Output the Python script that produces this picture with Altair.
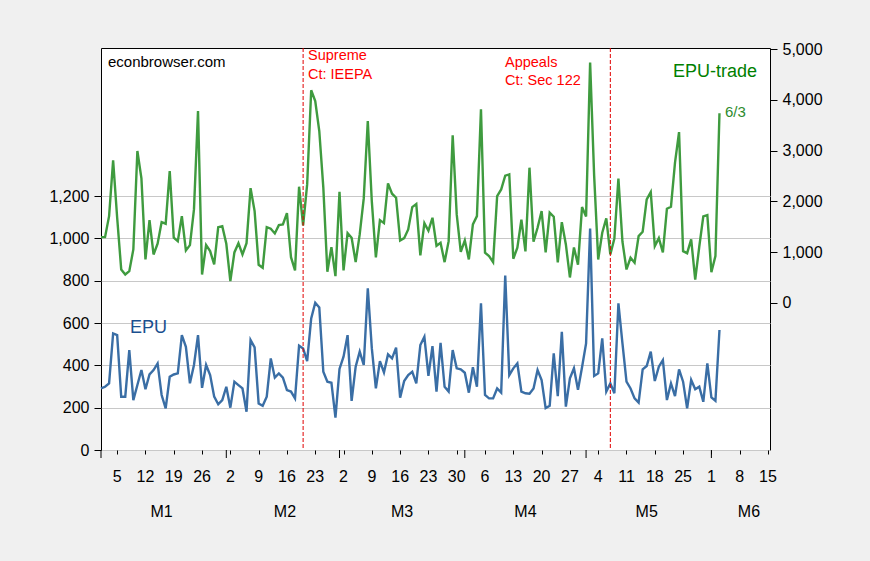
import altair as alt
import pandas as pd

# Daily index values, 1 Jan 2026 (day 0) through 3 Jun 2026 (day 153)
epu = [
    291, 299, 315, 551, 543, 252, 252, 472, 236, 307,
    378, 287, 357, 378, 409, 260, 197, 346, 357, 362,
    543, 488, 315, 402, 543, 294, 402, 354, 252, 216,
    236, 299, 200, 323, 307, 291, 181, 520, 485, 220,
    209, 252, 433, 342, 362, 342, 283, 276, 244, 493,
    480, 420, 622, 696, 674, 370, 323, 318, 153, 383,
    441, 543, 232, 394, 465, 402, 764, 480, 291, 420,
    367, 452, 433, 484, 247, 326, 354, 370, 315, 496,
    535, 350, 491, 276, 506, 299, 276, 472, 386, 381,
    365, 271, 391, 299, 693, 260, 244, 244, 291, 271,
    824, 354, 386, 409, 276, 268, 266, 291, 378, 331,
    198, 209, 457, 254, 559, 205, 339, 386, 285, 391,
    504, 1047, 350, 362, 528, 276, 315, 268, 693, 504,
    323, 291, 244, 224, 381, 397, 465, 326, 394, 425,
    236, 315, 255, 381, 323, 197, 331, 287, 299, 228,
    409, 249, 233, 567,
]

epu_trade = [
    1294, 1294, 1708, 2806, 1676, 657, 558, 624, 1051, 2990,
    2451, 854, 1629, 952, 1163, 1590, 1558, 2595, 1282, 1215,
    1708, 1031, 1136, 1840, 3778, 558, 1136, 1018, 755, 1491,
    1511, 1163, 426, 992, 1175, 952, 1175, 2260, 1806, 749,
    690, 1491, 1459, 1367, 1530, 1544, 1767, 899, 637, 2287,
    1524, 2333, 4187, 3976, 3384, 2268, 611, 1097, 525, 2189,
    637, 1373, 1282, 801, 1347, 2057, 3582, 1992, 893, 1629,
    1570, 2353, 2149, 2071, 1229, 1274, 1445, 1886, 1945, 933,
    1570, 1420, 1676, 1124, 1183, 801, 1215, 3299, 1741, 1005,
    1229, 854, 1544, 1708, 3812, 986, 919, 801, 2102, 2234,
    2504, 2530, 868, 1085, 1637, 1012, 2662, 1203, 1479, 1806,
    992, 1775, 1696, 795, 1590, 1150, 499, 1091, 749, 1886,
    1702, 4733, 2500, 854, 1380, 1662, 952, 1268, 2445, 1203,
    657, 887, 789, 1313, 1400, 2037, 2181, 1116, 1274, 992,
    1854, 1893, 2761, 3364, 1018, 978, 1248, 459, 1104, 1702,
    1727, 603, 919, 3733,
]

days = list(range(len(epu)))

# Axis tick positions (days since 1 Jan 2026)
mondays = [4, 11, 18, 25, 32, 39, 46, 53, 60, 67, 74, 81, 88, 95,
           102, 109, 116, 123, 130, 137, 144, 151, 158, 165]
monday_dom = [5, 12, 19, 26, 2, 9, 16, 23, 2, 9, 16, 23, 30, 6, 13,
              20, 27, 4, 11, 18, 25, 1, 8, 15]
month_starts = [0, 31, 59, 90, 120, 151]
month_names = ["M1", "M2", "M3", "M4", "M5", "M6"]
month_centers = [15, 45.5, 74.5, 105, 135, 160.3]

# Court rulings: 20 Feb and 7 May
event_days = [50, 126]

left_ticks = [0, 200, 400, 600, 800, 1000, 1200]
right_ticks = [0, 1000, 2000, 3000, 4000, 5000]

df = pd.DataFrame({"day": days, "epu": epu, "trade": epu_trade})
events = pd.DataFrame({"day": event_days})
months = pd.DataFrame({"day": month_starts})
month_lbl = pd.DataFrame({"day": month_centers, "label": month_names})
week_lbl = pd.DataFrame({"day": mondays, "label": [str(v) for v in monday_dom]})

FONT = "Liberation Sans"
W, H = 669, 402

x_scale = alt.Scale(domain=[0, 165.5], nice=False, zero=False)

x_axis = alt.Axis(
    values=mondays, labels=False, tickSize=4, tickColor="black",
    grid=False, domain=False, title=None,
)


def xenc():
    return alt.X("day:Q", scale=x_scale, axis=x_axis)


epu_line = alt.Chart(df).mark_line(color="#3a6ea5", strokeWidth=2.4).encode(
    x=xenc(),
    y=alt.Y(
        "epu:Q",
        scale=alt.Scale(domain=[0, 1900], nice=False),
        axis=alt.Axis(
            values=left_ticks, format=",.0f", orient="left", tickSize=7,
            tickColor="black", grid=True, gridColor="#c8c8c8",
            domain=False, labelFontSize=16, labelPadding=5,
            labelColor="black", title=None,
        ),
    ),
)

trade_line = alt.Chart(df).mark_line(color="#3f9b3f", strokeWidth=2.4).encode(
    x=xenc(),
    y=alt.Y(
        "trade:Q",
        scale=alt.Scale(domain=[-2900, 5020], nice=False, zero=False),
        axis=alt.Axis(
            values=right_ticks, format=",.0f", orient="right", tickSize=7,
            tickColor="black", grid=False, domain=False,
            labelFontSize=16, labelPadding=5, labelColor="black",
            title=None,
        ),
    ),
)

event_rules = alt.Chart(events).mark_rule(
    color="#e00000", strokeWidth=1, strokeDash=[4, 2]
).encode(x=xenc(), y=alt.value(0), y2=alt.value(H))

month_ticks = alt.Chart(months).mark_rule(color="black", strokeWidth=1).encode(
    x=xenc(), y=alt.value(H), y2=alt.value(H + 8)
)

week_text = alt.Chart(week_lbl).mark_text(
    font=FONT, fontSize=16, color="black", baseline="middle", align="center"
).encode(x=xenc(), y=alt.value(H + 27), text="label:N")

month_text = alt.Chart(month_lbl).mark_text(
    font=FONT, fontSize=16, color="black", baseline="middle", align="center"
).encode(x=xenc(), y=alt.value(H + 62), text="label:N")


def label(txt, x, y, color, size, align="left"):
    return alt.Chart(pd.DataFrame({"t": [txt]})).mark_text(
        font=FONT, fontSize=size, color=color, align=align, baseline="middle"
    ).encode(x=alt.value(x), y=alt.value(y), text="t:N")


notes = [
    label("econbrowser.com", 7, 14, "black", 15),
    label("Supreme", 207, 8, "#ff0000", 14.5),
    label("Ct: IEEPA", 207, 27, "#ff0000", 14.5),
    label("Appeals", 404, 15, "#ff0000", 14.5),
    label("Ct: Sec 122", 404, 33, "#ff0000", 14.5),
    label("EPU-trade", 572, 24, "#008000", 18),
    label("6/3", 624, 64, "#2e8b2e", 15),
    label("EPU", 29, 280, "#1a4f8f", 18),
]

chart = alt.layer(
    epu_line, trade_line, event_rules, month_ticks, week_text, month_text, *notes
).resolve_scale(
    y="independent"
).resolve_axis(
    y="independent"
).properties(
    width=W, height=H,
    autosize=alt.AutoSizeParams(type="none"),
    padding={"left": 101, "top": 48, "right": 100, "bottom": 111},
    background="#f0f0f0",
).configure_view(
    fill="white", stroke="black", strokeWidth=1
).configure_axis(
    labelFont=FONT
)

chart.save("out.html", embed_options={"renderer": "svg", "actions": False})
